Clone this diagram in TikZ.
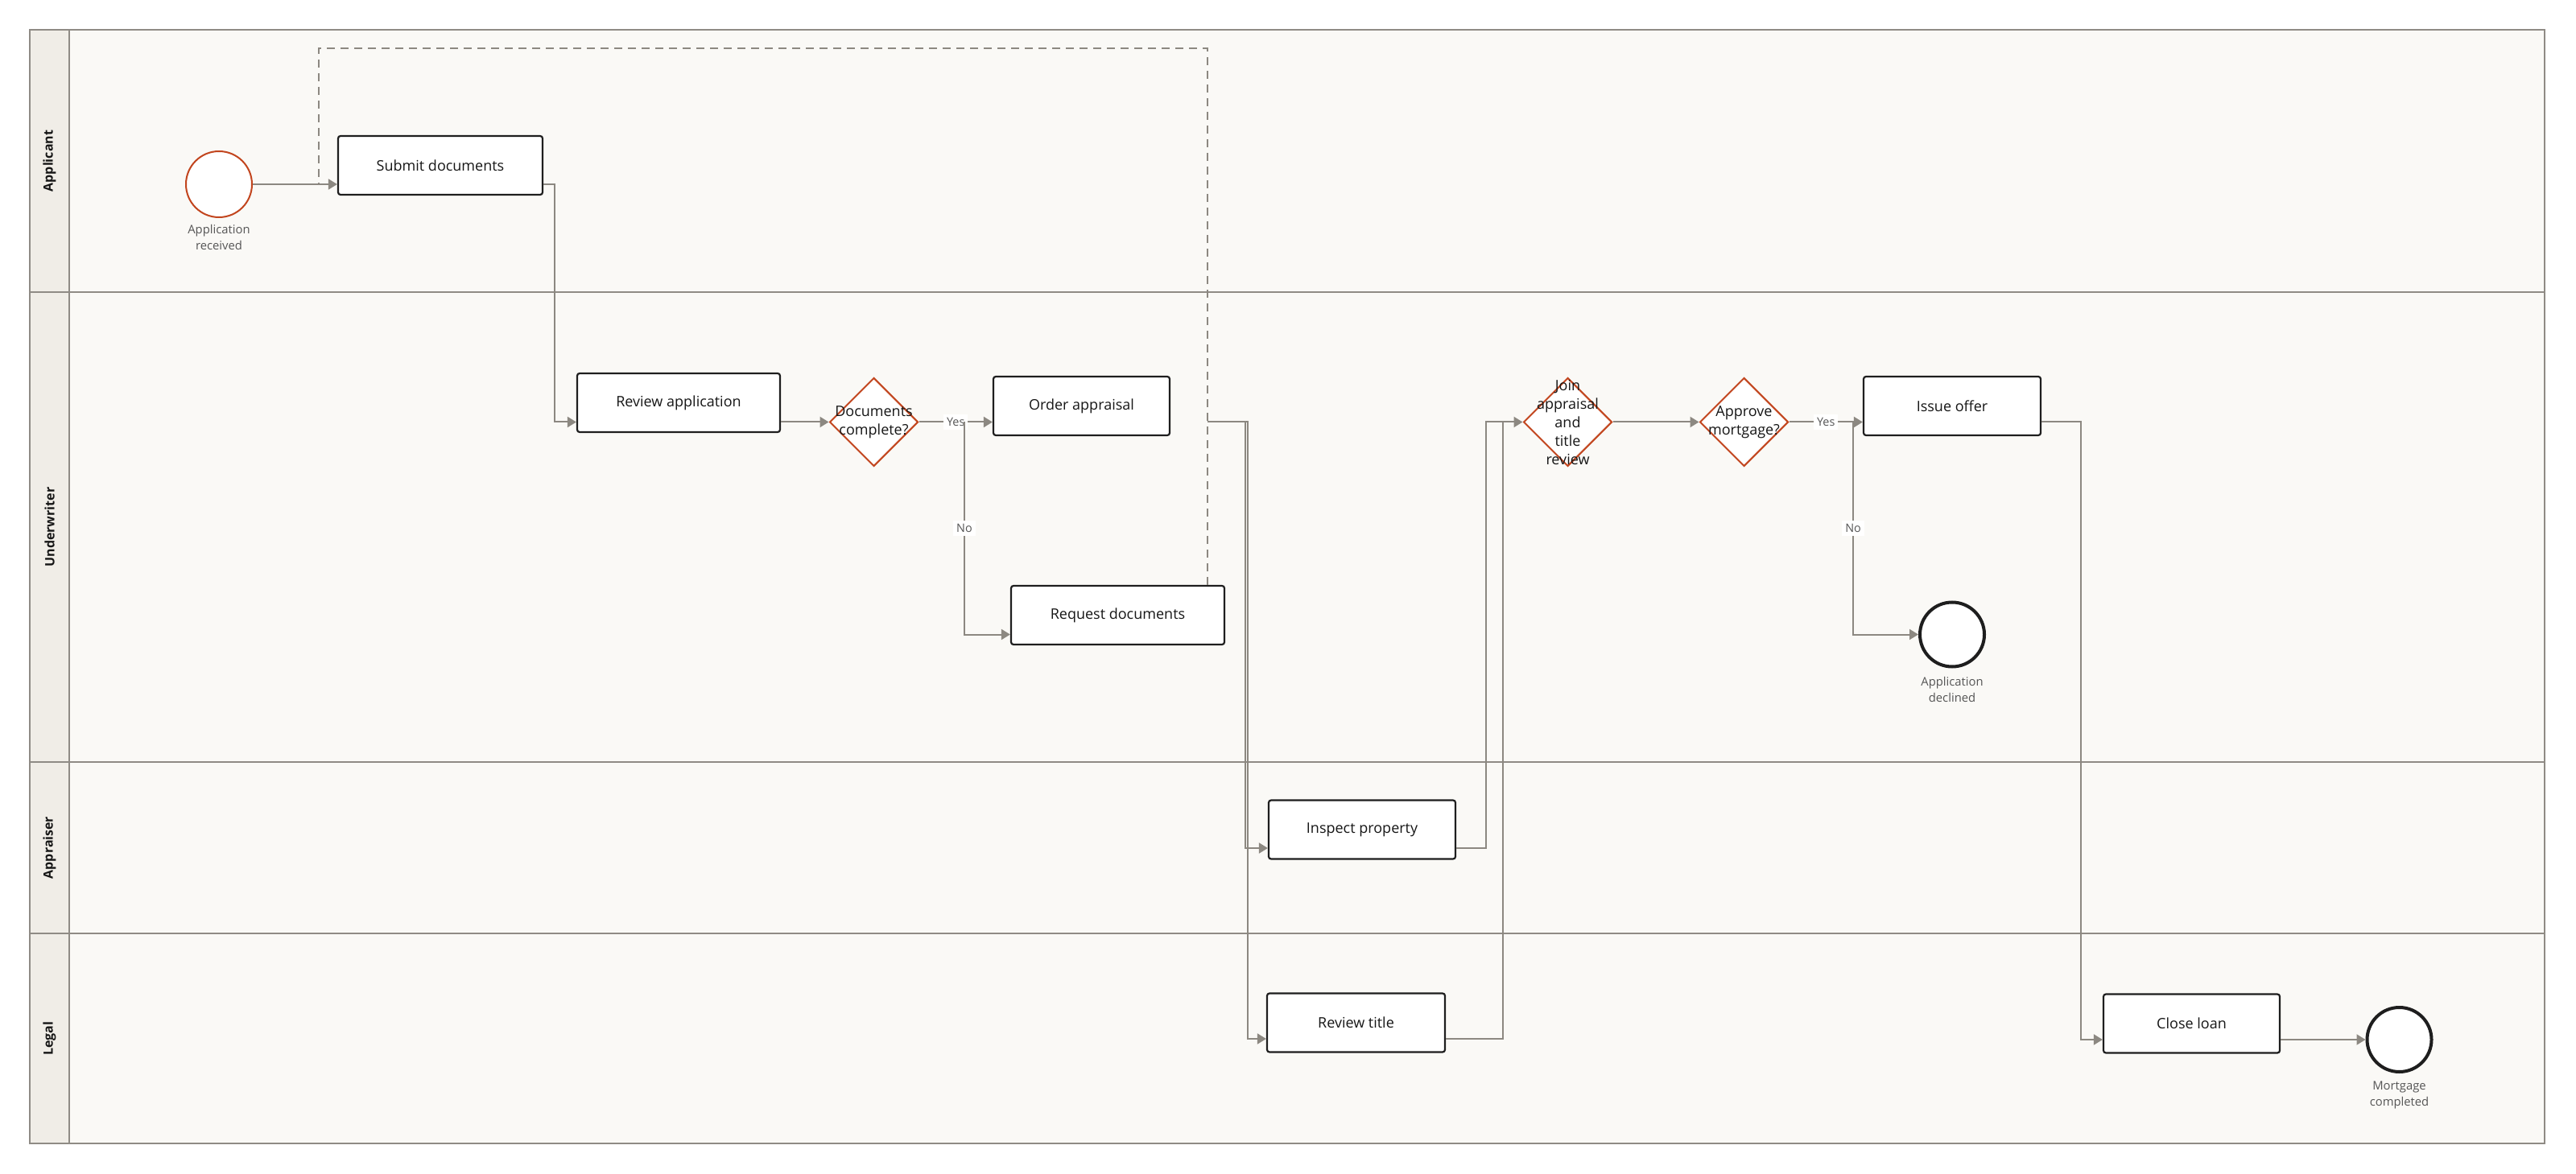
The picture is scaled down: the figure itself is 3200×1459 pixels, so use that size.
\documentclass[tikz,border=0pt]{standalone}
\usepackage{fontspec}
\setmainfont{Open Sans}
\usetikzlibrary{shapes.geometric,arrows.meta}
\definecolor{lanebg}{HTML}{FAF9F6}
\definecolor{headbg}{HTML}{F0EDE7}
\definecolor{lanec}{HTML}{8F8B85}
\definecolor{flowc}{HTML}{8C8881}
\definecolor{boxc}{HTML}{1E1E1E}
\definecolor{gatec}{HTML}{C2451E}
\definecolor{txtc}{HTML}{161616}
\definecolor{subc}{HTML}{555555}
\begin{document}
\begin{tikzpicture}[x=0.5pt,y=-0.5pt,
  task/.style={draw=boxc, fill=white, rounded corners=1.5pt, line width=1.1pt,
    minimum height=36.5pt, inner sep=0pt, text=txtc, font=\fontsize{9}{11}\selectfont},
  gate/.style={diamond, draw=gatec, fill=white, line width=1pt, aspect=1,
    minimum width=55pt, minimum height=55pt, inner sep=0pt},
  gtext/.style={align=center, text=txtc, font=\fontsize{9}{11.5}\selectfont, inner sep=0pt},
  startev/.style={circle, draw=gatec, fill=white, line width=1pt, minimum size=41pt, inner sep=0pt},
  endev/.style={circle, draw=boxc, fill=white, line width=2pt, minimum size=40pt, inner sep=0pt},
  clabel/.style={align=center, text=subc, font=\fontsize{7.4}{10}\selectfont, inner sep=0pt},
  lanelabel/.style={rotate=90, text=txtc, font=\bfseries\fontsize{8}{10}\selectfont},
  flow/.style={draw=flowc, line width=1pt, -{Triangle[length=5.5pt,width=6.5pt]}},
  plain/.style={draw=flowc, line width=1pt},
  msg/.style={draw=flowc, line width=1pt, dash pattern=on 5pt off 3.5pt},
  yn/.style={fill=white, text=subc, font=\fontsize{7.2}{9}\selectfont, inner sep=2pt}
]
\useasboundingbox (0,0) rectangle (3200,1459);
\fill[white] (0,0) rectangle (3200,1459);
% lanes
\fill[lanebg] (37,37) rectangle (3161,1421);
\fill[headbg] (37,37) rectangle (86,1421);
\begin{scope}[draw=lanec, line width=1pt]
  \draw (37,37) rectangle (3161,1421);
  \draw (86,37) -- (86,1421);
  \draw (37,363) -- (3161,363);
  \draw (37,947) -- (3161,947);
  \draw (37,1160) -- (3161,1160);
\end{scope}
\node[lanelabel] (lane1) at (61.5,200) {Applicant};
\node[lanelabel] (lane2) at (61.5,655) {Underwriter};
\node[lanelabel] (lane3) at (61.5,1053.5) {Appraiser};
\node[lanelabel] (lane4) at (61.5,1290.5) {Legal};

% nodes
\node[startev, label={[clabel, label distance=4pt]below:{Application\\received}}] (st) at (272,229) {};
\node[task, minimum width=127pt] (sub) at (547,205.5) {Submit documents};
\node[task, minimum width=126pt] (rev) at (843,500.5) {Review application};
\node[gate, label={[gtext]center:{Documents\\complete?}}] (dc) at (1085.5,524.5) {};
\node[task, minimum width=109.5pt] (oa) at (1343.5,504.5) {Order appraisal};
\node[task, minimum width=132.5pt] (rd) at (1388.5,764.5) {Request documents};
\node[task, minimum width=116pt] (ip) at (1692,1031) {Inspect property};
\node[task, minimum width=110.5pt] (rt) at (1684.5,1271) {Review title};
\node[gate, label={[gtext]center:{Join\\appraisal\\and\\title\\review}}] (jn) at (1947.5,524.5) {};
\node[gate, label={[gtext]center:{Approve\\mortgage?}}] (am) at (2166.5,524.5) {};
\node[task, minimum width=110pt] (io) at (2425,504.5) {Issue offer};
\node[endev, label={[clabel, label distance=5pt]below:{Application\\declined}}] (ad) at (2425,788.5) {};
\node[task, minimum width=109.5pt] (cl) at (2722.5,1272) {Close loan};
\node[endev, label={[clabel, label distance=5pt]below:{Mortgage\\completed}}] (mc) at (2980.5,1292) {};

% bend points
\coordinate (b1) at (689,229);
\coordinate (nob) at (1198,524.5);
\coordinate (oax) at (1500,524.5);
\coordinate (spl) at (1548,524.5);
\coordinate (ipx) at (1846,1054);
\coordinate (rtx) at (1867,1291);
\coordinate (ynb) at (2302,524.5);
\coordinate (iox) at (2585,524.5);
\coordinate (d1) at (1500,60);
\coordinate (d2) at (396,60);
\coordinate (d3) at (396,229);

% connectors
\draw[msg] (rd.north -| oax) -- (d1) -- (d2) -- (d3);
\draw[flow] (st.east) -- (sub.west |- st.east);
\draw[flow] (sub.east |- b1) -- (b1) |- (rev.west |- dc.west);
\draw[flow] (rev.east |- dc.west) -- (dc.west);
\draw[flow] (dc.east) -- node[yn]{Yes} (oa.west |- dc.east);
\draw[flow] (nob) -- node[yn]{No} (nob |- ad.west) -- (rd.west |- ad.west);
\draw[flow] (oax) -- (spl) -- ++(-1,0) |- (ip.west |- ipx);
\draw[flow] (spl) -- ++(2,0) |- (rt.west |- rtx);
\draw[flow] (ip.east |- ipx) -- (ipx) |- (jn.west);
\draw[plain] (rt.east |- rtx) -- (rtx) -- (rtx |- jn.west);
\draw[flow] (jn.east) -- (am.west);
\draw[flow] (am.east) -- node[yn]{Yes} (io.west |- am.east);
\draw[flow] (ynb) -- node[yn]{No} (ynb |- ad.west) -- (ad.west);
\draw[flow] (io.east |- iox) -- (iox) |- (cl.west |- mc.west);
\draw[flow] (cl.east |- mc.west) -- (mc.west);
\end{tikzpicture}
\end{document}
